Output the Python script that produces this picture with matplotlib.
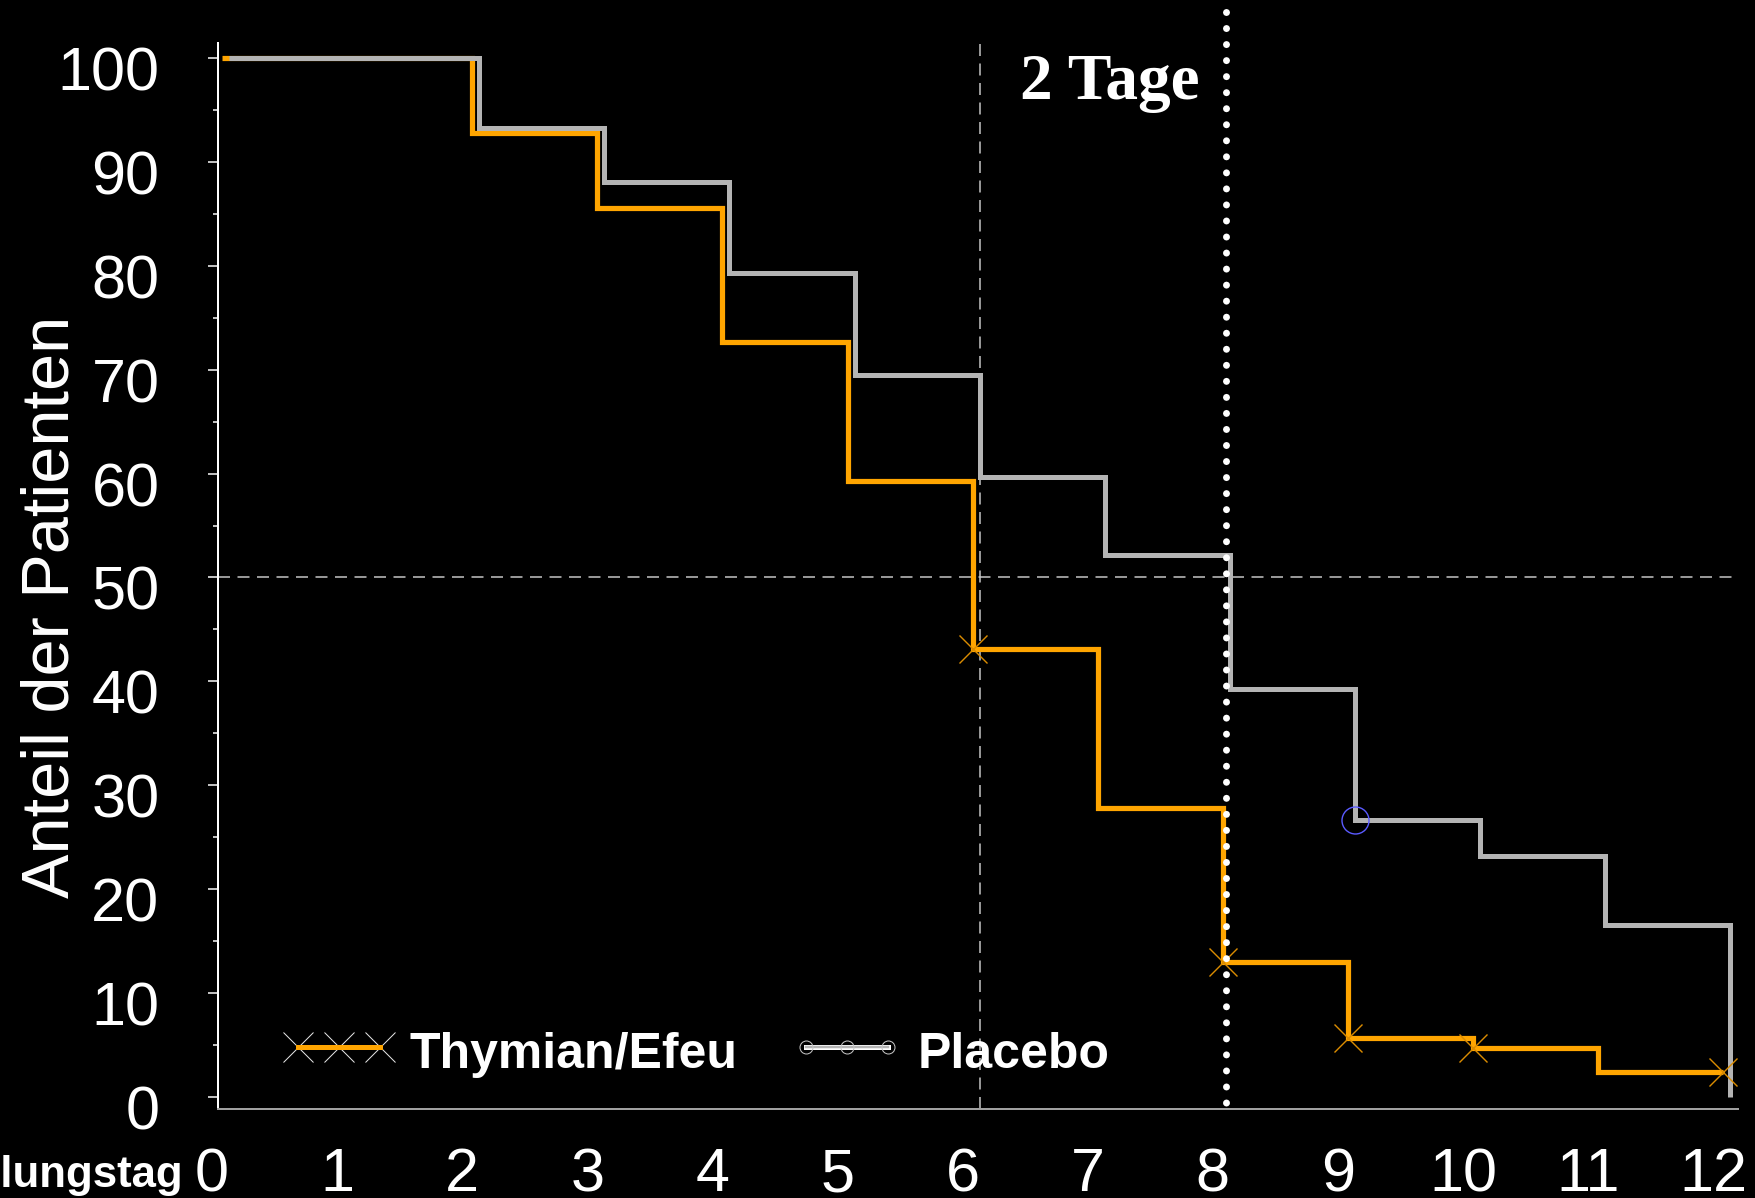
import matplotlib
matplotlib.use('Agg')
import matplotlib.pyplot as plt
import matplotlib.transforms as mtransforms
from matplotlib.lines import Line2D
from matplotlib.legend_handler import HandlerLine2D, HandlerTuple

plt.rcParams['font.family'] = ['Liberation Sans', 'DejaVu Sans']

# ---------------- data ----------------
days = [0, 1, 2, 3, 4, 5, 6, 7, 8, 9, 10, 11, 12]
thymian = [100, 100, 92.8, 85.6, 72.7, 59.3, 43.1, 27.8, 13.0, 5.7, 4.7, 2.4, 2.4]
placebo = [100, 100, 93.3, 88.1, 79.3, 69.5, 59.7, 52.2, 39.3, 26.7, 23.2, 16.6, 0.0]
thymian_censor_days = [6, 8, 9, 10, 12]
thymian_censor_vals = [43.1, 13.0, 5.7, 4.7, 2.4]
placebo_censor_days = [9]
placebo_censor_vals = [26.7]
median_thymian = 6
median_placebo = 8
half_line = 50
x_tick_labels = ['0', '1', '2', '3', '4', '5', '6', '7', '8', '9', '10', '11', '12']
y_ticks = [0, 10, 20, 30, 40, 50, 60, 70, 80, 90, 100]
y_minor_ticks = [5, 15, 25, 35, 45, 55, 65, 75, 85, 95]
series_labels = ['Thymian/Efeu', 'Placebo']
y_label = 'Anteil der Patienten'
x_label = 'Behandlungstag'
annotation = '2 Tage'

# ---------------- figure ----------------
W, H = 1756, 1198
PX = 72 / 100  # points per pixel at dpi 100
fig = plt.figure(figsize=(W / 100, H / 100), dpi=100, facecolor='black')
ax = fig.add_axes([218 / W, 89 / H, 1520 / W, 1066 / H])
ax.set_facecolor('black')
ax.set_xlim(-0.088, 12.062)
ax.set_ylim(-1.155, 101.44)

orange = '#FFA500'
gray = '#B4B4B4'
orange_off = mtransforms.offset_copy(ax.transData, fig=fig, x=-7, y=0, units='dots')
dot_off = mtransforms.offset_copy(ax.transData, fig=fig, x=-4, y=0, units='dots')

# reference lines
ax.axhline(half_line, color='#C8C8C8', lw=1.5 * PX, ls=(0, (8, 5)), zorder=2)
ax.axvline(median_thymian, color='#C8C8C8', lw=1.5 * PX, ls=(0, (8, 5)), zorder=2)

# survival curves
ax.step(days, thymian, where='post', color=orange, lw=5.2 * PX, zorder=3,
        transform=orange_off, solid_joinstyle='miter', solid_capstyle='butt')
ax.step(days, placebo, where='post', color=gray, lw=5.0 * PX, zorder=4,
        solid_joinstyle='miter', solid_capstyle='butt')

# censor marks
ax.plot(thymian_censor_days, thymian_censor_vals, ls='none', marker='x',
        ms=28 * PX, mec='#DB8C00', mew=1.4 * PX, transform=orange_off, zorder=5)
ax.plot(placebo_censor_days, placebo_censor_vals, ls='none', marker='o',
        ms=27 * PX, mfc='none', mec='#5A5AFF', mew=1.4 * PX, zorder=5)

# dotted line at placebo median
ylo = ax.get_ylim()[0]
ax.plot([median_placebo, median_placebo], [104.4, ylo], color='white', lw=7 * PX,
        ls=(0, (0.001, 2.29)), dash_capstyle='round', clip_on=False, zorder=6,
        transform=dot_off)

# annotation
ax.text(6.323, 96.05, annotation, family=['Liberation Serif', 'DejaVu Serif'],
        weight='bold', size=47, color='white', ha='left', va='baseline', zorder=7)

# ticks
ax.set_xticks(days)
ax.set_xticklabels(x_tick_labels)
ax.set_yticks(y_ticks)
ax.set_yticks(y_minor_ticks, minor=True)
ax.tick_params(axis='x', length=0, pad=27.4, labelsize=44, labelcolor='white')
ax.tick_params(axis='y', which='major', length=10 * PX, width=1.5 * PX, color='white',
               pad=35, labelsize=44, labelcolor='white', direction='out')
ax.tick_params(axis='y', which='minor', length=5 * PX, width=1.5 * PX, color='white',
               direction='out')
for lab in ax.get_xticklabels():
    lab.set_transform(lab.get_transform() +
                      mtransforms.ScaledTranslation(-17 / 100, 0, fig.dpi_scale_trans))
for lab in ax.get_yticklabels():
    lab.set_transform(lab.get_transform() +
                      mtransforms.ScaledTranslation(0, -10.5 / 100, fig.dpi_scale_trans))

for s in ['top', 'right']:
    ax.spines[s].set_visible(False)
ax.spines['left'].set_color('white')
ax.spines['left'].set_linewidth(2 * PX)
ax.spines['bottom'].set_color('#A0A0A0')
ax.spines['bottom'].set_linewidth(2 * PX)

# axis labels
ax.set_ylabel(y_label, fontsize=48, color='white', rotation=90,
              rotation_mode='anchor', ha='center', va='baseline')
ax.yaxis.set_label_coords(69 / W, (H - 607) / H, transform=fig.transFigure)
fig.text(183 / W, (H - 1187) / H, x_label, ha='right', va='baseline',
         fontsize=31.5, weight='bold', color='white')

# legend
h1 = (Line2D([], [], ls='none', marker='x', ms=30 * PX, mec='#E6E6E6', mew=1 * PX),
      Line2D([], [], color=orange, lw=5 * PX))
h2 = (Line2D([], [], color='white', lw=5 * PX),
      Line2D([], [], color=gray, lw=2.5 * PX, marker='o', ms=13 * PX, mfc='none',
             mec='#C8C8C8', mew=1 * PX))
ax.legend([h1, h2], series_labels, ncol=2, loc='lower left',
          bbox_to_anchor=(288 / W, 120 / H), bbox_transform=fig.transFigure,
          frameon=False, borderpad=0, borderaxespad=0, handlelength=2.04,
          handletextpad=0.4, columnspacing=1.16, handleheight=1.2, numpoints=3,
          prop={'weight': 'bold', 'size': 36}, labelcolor='white',
          handler_map={tuple: HandlerTuple(ndivide=1),
                       Line2D: HandlerLine2D(marker_pad=0.2)})

fig.savefig('out.png', dpi=100, facecolor='black')
